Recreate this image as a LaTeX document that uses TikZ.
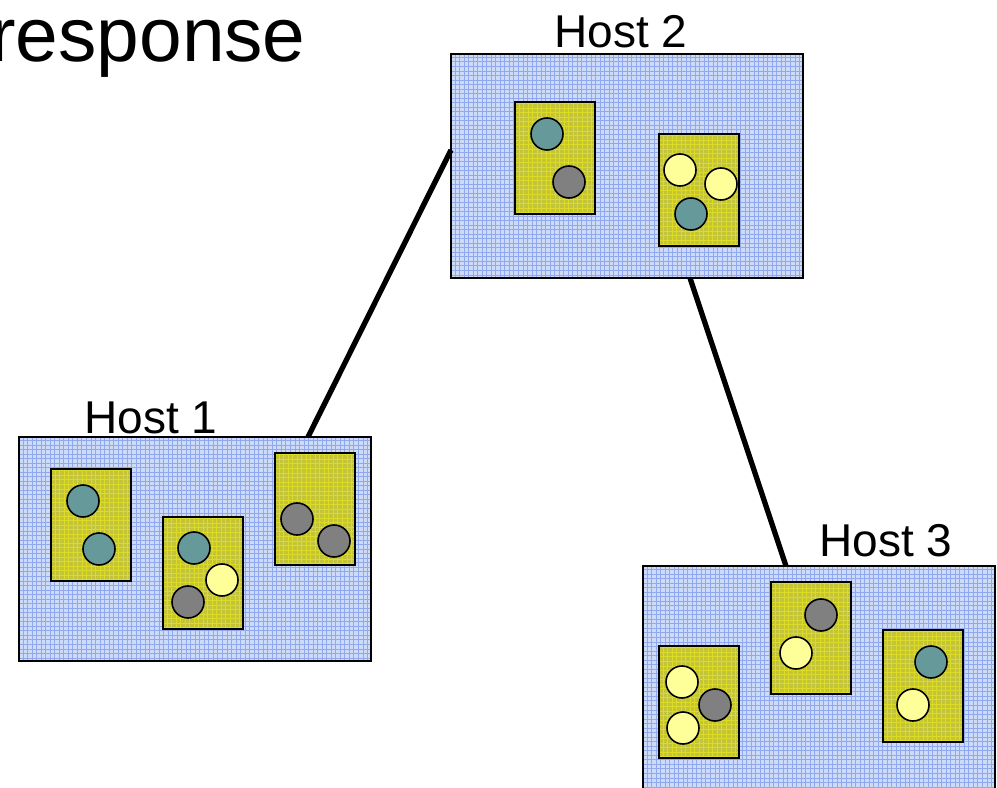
\documentclass[tikz,border=0pt]{standalone}
\usepackage{fontspec}
\setmainfont{Liberation Sans}
\usetikzlibrary{calc}
\definecolor{hostbg}{HTML}{CDDAF8}
\definecolor{hostgrid}{HTML}{90A8EE}
\definecolor{vmbg}{HTML}{C4C438}
\definecolor{vmgrid}{HTML}{DCDC28}
\definecolor{cteal}{HTML}{669999}
\definecolor{cgray}{HTML}{808080}
\definecolor{cyel}{HTML}{FFFF99}
\begin{document}
\begin{tikzpicture}[x=0.75pt,y=-0.75pt,
  hostbox/.style={draw=black,line width=1.3pt,fill=hostbg,minimum width=264pt,minimum height=168pt,
    anchor=north west,inner sep=0pt,outer sep=0pt,
    path picture={\draw[hostgrid,line width=0.35pt,step=3.4pt] (path picture bounding box.south west) grid (path picture bounding box.north east);}},
  vmbox/.style={draw=black,line width=1.2pt,fill=vmbg,minimum width=60pt,minimum height=84pt,
    anchor=north west,inner sep=0pt,outer sep=0pt,
    path picture={\draw[vmgrid,line width=0.35pt,step=3.4pt] (path picture bounding box.south west) grid (path picture bounding box.north east);}},
  proc/.style={circle,draw=black,line width=1.2pt,minimum size=24pt,inner sep=0pt},
  pt/.style={proc,fill=cteal},
  pg/.style={proc,fill=cgray},
  py/.style={proc,fill=cyel},
  lbl/.style={font=\fontsize{34.5}{40}\selectfont,anchor=base west,inner sep=0pt},
  link/.style={line width=4pt}]
\useasboundingbox (0,0) rectangle (997,788);
% title
\node[font=\fontsize{57.5}{62}\selectfont,anchor=base west,inner sep=0pt] (title) at (-10,62) {response};
% hosts
\node[hostbox] (h1) at (19,437) {};
\node[hostbox] (h2) at (451,54) {};
\node[hostbox] (h3) at (643,566) {};
% labels
\node[lbl] (l1) at (84,433) {Host 1};
\node[lbl] (l2) at (554,48) {Host 2};
\node[lbl] (l3) at (819,556) {Host 3};
% links
\draw[link] ($(h1.north west)+(289,0)$) -- ($(h2.north west)+(0,96)$);
\draw[link] ($(h2.south west)+(239,0)$) -- ($(h3.north west)+(143,0)$);
% host 1 VMs
\node[vmbox] (v11) at (51,469) {};
\node[vmbox] (v12) at (163,517) {};
\node[vmbox] (v13) at (275,453) {};
\node[pt] (p111) at (83,501) {};
\node[pt] (p112) at (99,549) {};
\node[pt] (p121) at (194,548) {};
\node[py] (p122) at (222,580) {};
\node[pg] (p123) at (188,602) {};
\node[pg] (p131) at (297,519) {};
\node[pg] (p132) at (334,541) {};
% host 2 VMs
\node[vmbox] (v21) at (515,102) {};
\node[vmbox] (v22) at (659,134) {};
\node[pt] (p211) at (547,134) {};
\node[pg] (p212) at (569,182) {};
\node[py] (p221) at (680,170) {};
\node[py] (p222) at (721,184) {};
\node[pt] (p223) at (691,214) {};
% host 3 VMs
\node[vmbox] (v31) at (659,646) {};
\node[vmbox] (v32) at (771,582) {};
\node[vmbox] (v33) at (883,630) {};
\node[py] (p311) at (682,682) {};
\node[pg] (p312) at (715,705) {};
\node[py] (p313) at (683,728) {};
\node[pg] (p321) at (821,615) {};
\node[py] (p322) at (796,653) {};
\node[pt] (p331) at (931,662) {};
\node[py] (p332) at (913,705) {};
\end{tikzpicture}
\end{document}
